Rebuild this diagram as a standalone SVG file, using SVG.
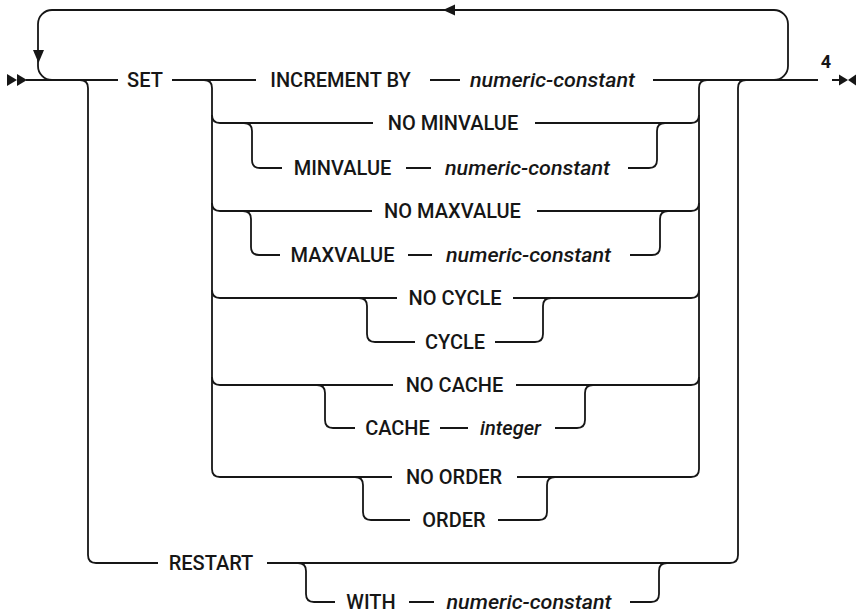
<svg xmlns="http://www.w3.org/2000/svg" width="856" height="613" viewBox="0 0 856 613">
<style>
  .bg { fill: #ffffff; }
  .ln { fill: none; stroke: #161616; stroke-width: 1.8; stroke-linecap: butt; }
  .ah { fill: #161616; stroke: none; }
  .kw { font-family: Roboto, "Liberation Sans", Arial, sans-serif; font-size: 20px; font-weight: 500; fill: #161616; text-anchor: middle; }
  .var { font-family: Roboto, "Liberation Sans", Arial, sans-serif; font-size: 20px; font-weight: 500; font-style: italic; fill: #161616; text-anchor: middle; }
  .note { font-family: Roboto, "Liberation Sans", Arial, sans-serif; font-size: 18px; font-weight: bold; fill: #161616; text-anchor: middle; }
</style>
<rect class="bg" x="0" y="0" width="856" height="613"/>

<g id="connectors">
  <!-- main line -->
  <path class="ln" d="M26,80 H118 M172,80 H256 M430,80 H460 M653,80 H818 M832,80 H841"/>
  <!-- repeat loop -->
  <path class="ln" d="M774,80 A14,14 0 0 0 788,66 V24 A14,14 0 0 0 774,10 H52 A14,14 0 0 0 38,24 V66 A14,14 0 0 0 52,80"/>
  <polygon class="ah" points="443,10 455,4.5 455,15.5"/>
  <polygon class="ah" points="38.5,63 33,50 44,50"/>
  <!-- start / end symbols -->
  <polygon class="ah" points="7,74 17,80 7,86"/>
  <polygon class="ah" points="17,74 27,80 17,86"/>
  <polygon class="ah" points="839,74.5 848,80 839,85.5"/>
  <polygon class="ah" points="856,74.5 848,80 856,85.5"/>

  <!-- outer SET / RESTART branch -->
  <path class="ln" d="M80,80 Q88,80 88,88 V555 Q88,563 96,563 H158"/>
  <path class="ln" d="M267,563 H730 Q738,563 738,555 V88 Q738,80 746,80"/>

  <!-- SET options branch -->
  <path class="ln" d="M204,80 Q212,80 212,88 V469 Q212,477 220,477 H392"/>
  <path class="ln" d="M517,477 H691 Q699,477 699,469 V88 Q699,80 707,80"/>

  <!-- NO MINVALUE / MINVALUE -->
  <path class="ln" d="M212,115 Q212,123 220,123 H373 M535,123 H691 Q699,123 699,115"/>
  <path class="ln" d="M244,123 Q252,123 252,131 V160 Q252,168 260,168 H282 M406,168 H431 M628,168 H649 Q657,168 657,160 V131 Q657,123 665,123"/>

  <!-- NO MAXVALUE / MAXVALUE -->
  <path class="ln" d="M212,203 Q212,211 220,211 H372 M537,211 H691 Q699,211 699,203"/>
  <path class="ln" d="M243,211 Q251,211 251,219 V247 Q251,255 259,255 H280 M408,255 H432 M630,255 H652 Q660,255 660,247 V219 Q660,211 668,211"/>

  <!-- NO CYCLE / CYCLE -->
  <path class="ln" d="M212,290 Q212,298 220,298 H397 M513,298 H691 Q699,298 699,290"/>
  <path class="ln" d="M359,298 Q367,298 367,306 V334 Q367,342 375,342 H415 M495,342 H535 Q543,342 543,334 V306 Q543,298 551,298"/>

  <!-- NO CACHE / CACHE -->
  <path class="ln" d="M212,377 Q212,385 220,385 H393 M516,385 H691 Q699,385 699,377"/>
  <path class="ln" d="M317,385 Q325,385 325,393 V420 Q325,428 333,428 H355 M440,428 H468 M555,428 H577 Q585,428 585,420 V393 Q585,385 593,385"/>

  <!-- NO ORDER / ORDER -->
  <path class="ln" d="M355,477 Q363,477 363,485 V512 Q363,520 371,520 H410 M498,520 H539 Q547,520 547,512 V485 Q547,477 555,477"/>

  <!-- WITH -->
  <path class="ln" d="M298,563 Q306,563 306,571 V594 Q306,602 314,602 H335 M409,602 H434 M630,602 H651 Q659,602 659,594 V571 Q659,563 667,563"/>
</g>

<g id="n-set"><text class="kw" x="145" y="87">SET</text></g>
<g id="n-increment"><text class="kw" x="340.5" y="87">INCREMENT BY</text></g>
<g id="n-increment-val"><text class="var" x="552.5" y="87" textLength="165" lengthAdjust="spacingAndGlyphs">numeric-constant</text></g>
<g id="n-note4"><text class="note" x="826" y="68">4</text></g>

<g id="n-nominvalue"><text class="kw" x="453" y="130">NO MINVALUE</text></g>
<g id="n-minvalue"><text class="kw" x="342.5" y="175">MINVALUE</text></g>
<g id="n-minvalue-val"><text class="var" x="527.5" y="175" textLength="165" lengthAdjust="spacingAndGlyphs">numeric-constant</text></g>

<g id="n-nomaxvalue"><text class="kw" x="452.5" y="218">NO MAXVALUE</text></g>
<g id="n-maxvalue"><text class="kw" x="342.5" y="262">MAXVALUE</text></g>
<g id="n-maxvalue-val"><text class="var" x="528.5" y="262" textLength="165" lengthAdjust="spacingAndGlyphs">numeric-constant</text></g>

<g id="n-nocycle"><text class="kw" x="455" y="305">NO CYCLE</text></g>
<g id="n-cycle"><text class="kw" x="455" y="349">CYCLE</text></g>

<g id="n-nocache"><text class="kw" x="454.5" y="392">NO CACHE</text></g>
<g id="n-cache"><text class="kw" x="397.5" y="435">CACHE</text></g>
<g id="n-cache-val"><text class="var" x="510.5" y="435">integer</text></g>

<g id="n-noorder"><text class="kw" x="454" y="484">NO ORDER</text></g>
<g id="n-order"><text class="kw" x="454" y="527">ORDER</text></g>

<g id="n-restart"><text class="kw" x="211" y="570">RESTART</text></g>
<g id="n-with"><text class="kw" x="371" y="609">WITH</text></g>
<g id="n-with-val"><text class="var" x="529" y="609" textLength="165" lengthAdjust="spacingAndGlyphs">numeric-constant</text></g>
</svg>
